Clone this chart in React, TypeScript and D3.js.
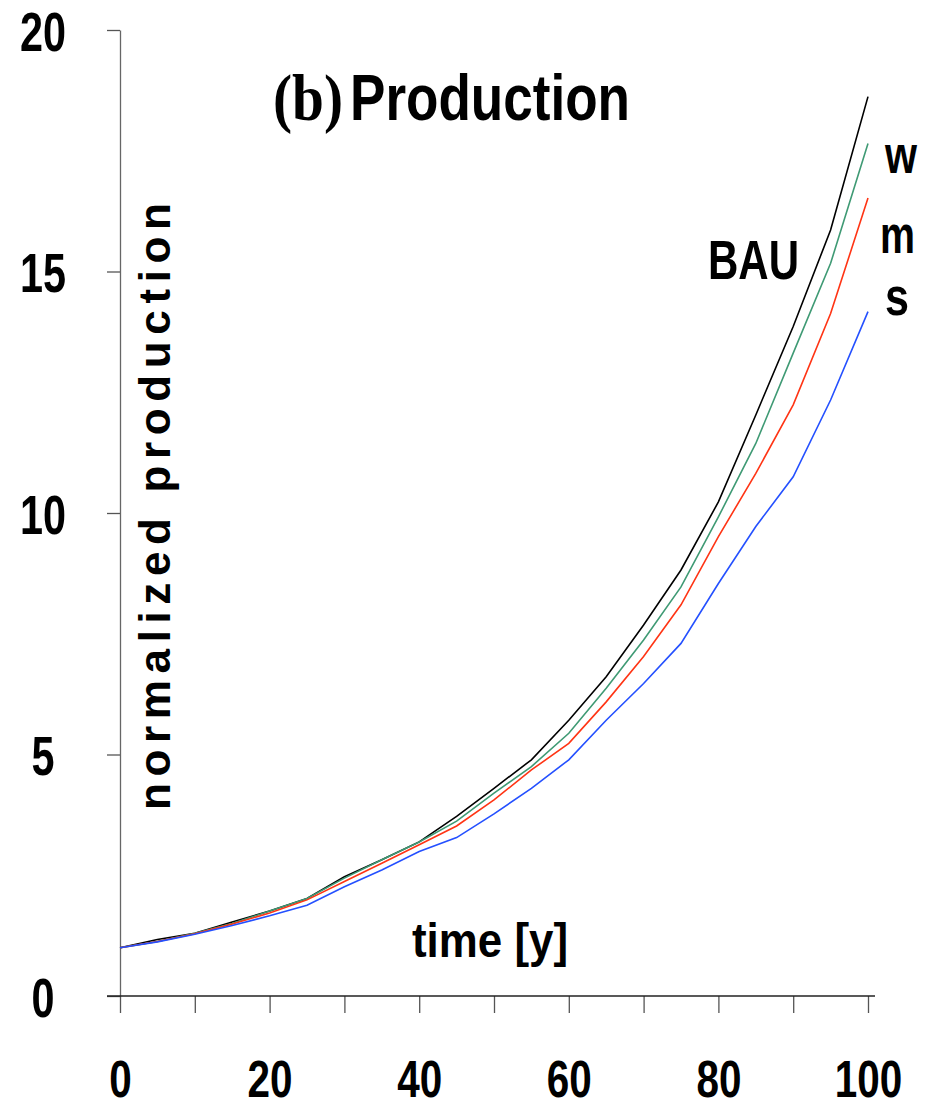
import React, { useEffect, useRef } from 'react'
import * as d3 from 'd3'

// values, every 5 years
const years = [0, 5, 10, 15, 20, 25, 30, 35, 40, 45, 50, 55, 60, 65, 70, 75, 80, 85, 90, 95, 100]
const bau = [1.0, 1.17, 1.3, 1.53, 1.76, 2.02, 2.47, 2.82, 3.19, 3.72, 4.3, 4.89, 5.71, 6.61, 7.68, 8.82, 10.23, 12.03, 13.86, 15.86, 18.62]
const weak = [1.0, 1.13, 1.3, 1.5, 1.76, 2.02, 2.44, 2.82, 3.19, 3.62, 4.2, 4.75, 5.44, 6.37, 7.37, 8.47, 9.92, 11.44, 13.31, 15.17, 17.65]
const medium = [1.0, 1.13, 1.29, 1.49, 1.72, 1.99, 2.37, 2.75, 3.13, 3.52, 4.06, 4.68, 5.23, 6.09, 7.03, 8.1, 9.51, 10.82, 12.24, 14.13, 16.52]
const strong = [1.0, 1.12, 1.28, 1.46, 1.66, 1.88, 2.26, 2.61, 2.99, 3.28, 3.77, 4.3, 4.89, 5.71, 6.47, 7.3, 8.54, 9.72, 10.75, 12.34, 14.17]

const yTicks = [0, 5, 10, 15, 20]
const xTicks = [0, 10, 20, 30, 40, 50, 60, 70, 80, 90, 100]

const narrow = '"Liberation Sans Narrow", "Arial Narrow", "Liberation Sans", Arial, sans-serif'
const sans = '"Liberation Sans", Arial, sans-serif'

export default function App() {
  const ref = useRef<SVGGElement>(null)

  useEffect(() => {
    const g = d3.select(ref.current)
    g.selectAll('*').remove()

    const x = d3.scaleLinear().domain([0, 100]).range([120, 868])
    const y = d3.scaleLinear().domain([0, 20]).range([996, 30])

    // y axis
    const yAxis = d3.axisLeft(y).tickValues(yTicks).tickSizeInner(13).tickSizeOuter(0).tickPadding(64)
    const gy = g.append('g').attr('transform', 'translate(120,0)').call(yAxis)
    gy.select('.domain').attr('stroke', '#666').attr('stroke-width', 1.3)
    gy.selectAll('.tick line').attr('stroke', '#555').attr('stroke-width', 1.3)
    gy.selectAll('.tick text')
      .attr('fill', '#000')
      .attr('text-anchor', 'middle')
      .attr('dy', '0.36em')
      .attr('textLength', d => String(d).length * 23)
      .attr('lengthAdjust', 'spacingAndGlyphs')
      .style('font-family', narrow)
      .style('font-weight', 'bold')
      .style('font-size', '56px')

    // x axis
    const xAxis = d3.axisBottom(x).tickValues(xTicks).tickSizeInner(17).tickSizeOuter(0).tickPadding(70)
      .tickFormat(d => ((d as number) % 20 === 0 ? String(d) : ''))
    const gx = g.append('g').attr('transform', 'translate(0,996)').call(xAxis)
    gx.select('.domain').remove()
    gx.append('line').attr('x1', 107).attr('x2', 875).attr('stroke', '#222').attr('stroke-width', 1.3)
    gx.selectAll('.tick line').attr('stroke', '#555').attr('stroke-width', 1.3)
    gx.selectAll('.tick text')
      .attr('fill', '#000')
      .attr('dy', 0)
      .attr('y', 101)
      .attr('textLength', d => String(d).length * 22.5)
      .attr('lengthAdjust', 'spacingAndGlyphs')
      .style('font-family', narrow)
      .style('font-weight', 'bold')
      .style('font-size', '51px')

    // lines
    const line = d3.line<number>().x((d, i) => x(years[i])).y(d => y(d))
    const series = [
      { v: bau, c: '#000000' },
      { v: weak, c: '#3f9a74' },
      { v: medium, c: '#ff3414' },
      { v: strong, c: '#2450ff' },
    ]
    g.append('g').selectAll('path').data(series).enter().append('path')
      .attr('d', d => line(d.v))
      .attr('fill', 'none')
      .attr('stroke', d => d.c)
      .attr('stroke-width', 1.6)
  }, [])

  const bold = { fontWeight: 'bold' as const }

  return (
    <svg width={930} height={1106} style={{ position: 'absolute', left: 0, top: 0 }}>
      <g ref={ref} />

      {/* title */}
      <text x={273} y={120} textLength={70} lengthAdjust="spacingAndGlyphs"
        style={{ ...bold, fontFamily: '"Liberation Serif", "Times New Roman", serif', fontSize: 66 }}>(b)</text>
      <text x={350} y={120} textLength={280} lengthAdjust="spacingAndGlyphs"
        style={{ ...bold, fontFamily: narrow, fontSize: 64 }}>Production</text>

      {/* axis titles */}
      <text transform="translate(170,810) rotate(-90)" textLength={607} lengthAdjust="spacing"
        style={{ ...bold, fontFamily: sans, fontSize: 44 }}>normalized  production</text>
      <text x={412} y={957} textLength={156} lengthAdjust="spacingAndGlyphs"
        style={{ ...bold, fontFamily: narrow, fontSize: 48 }}>time [y]</text>

      {/* series labels */}
      <text x={708} y={279} textLength={91} lengthAdjust="spacingAndGlyphs"
        style={{ ...bold, fontFamily: sans, fontSize: 56 }}>BAU</text>
      <text x={885} y={173} textLength={32} lengthAdjust="spacingAndGlyphs"
        style={{ ...bold, fontFamily: sans, fontSize: 54 }}>w</text>
      <text x={880} y={253} textLength={35} lengthAdjust="spacingAndGlyphs"
        style={{ ...bold, fontFamily: sans, fontSize: 54 }}>m</text>
      <text x={885} y={315} textLength={24} lengthAdjust="spacingAndGlyphs"
        style={{ ...bold, fontFamily: sans, fontSize: 54 }}>s</text>
    </svg>
  )
}
